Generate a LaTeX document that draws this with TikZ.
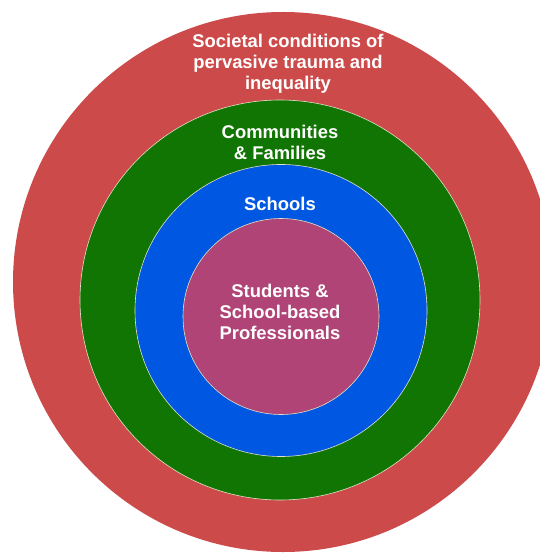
\documentclass[tikz,border=0pt]{standalone}
\usepackage{fontspec}
\setmainfont{Liberation Sans}

\definecolor{society}{RGB}{204,74,74}
\definecolor{community}{RGB}{17,117,3}
\definecolor{school}{RGB}{0,88,226}
\definecolor{student}{RGB}{176,68,118}
\definecolor{rim}{RGB}{222,226,200}

\tikzset{
	ring/.style={draw=rim, line width=0.6pt},
	label/.style={text=white, align=center, inner sep=0pt,
		font=\bfseries\fontsize{18.4}{21}\selectfont}
}

\begin{document}
\begin{tikzpicture}[x=1pt,y=-1pt]
		\useasboundingbox (0,0) rectangle (539,553);
		\fill[white] (0,0) rectangle (539,553);
		
		% society
		\fill[society] (283,282) circle[radius=270pt];
		
		% communities and families
		\filldraw[ring, fill=community] (280,300) circle[radius=200pt];
		
		% schools
		\filldraw[ring, fill=school] (281,310.5) circle[radius=146pt];
		
		% students
		\filldraw[ring, fill=student] (281,316.5) circle[radius=98pt];
		
		%labels
		\node[label] (society) at (288,64) {Societal conditions of\\pervasive trauma and\\inequality};
		\node[label] (community) at (280,142) {Communities\\\& Families};
		\node[label] (school) at (280,203.5) {Schools};
		\node[label] (student) at (280,311.5) {Students \&\\School-based\\Professionals};
	\end{tikzpicture}
\end{document}
